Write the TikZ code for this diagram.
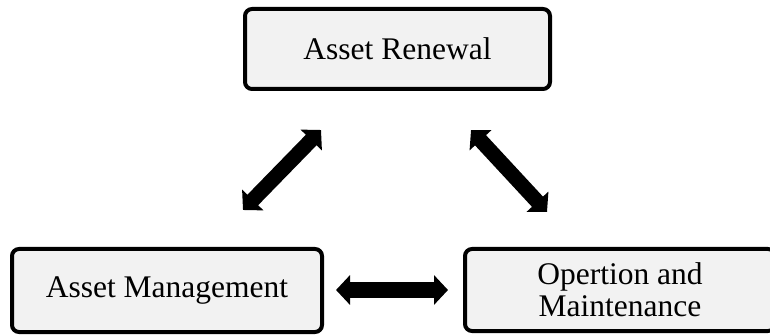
\documentclass[tikz,border=0pt]{standalone}
\usepackage{fontspec}
\setmainfont{Liberation Serif}
\usetikzlibrary{arrows.meta}
\begin{document}
\begin{tikzpicture}[x=1pt,y=-1pt,
  box/.style={draw=black, line width=4pt, rounded corners=7pt, fill=boxfill,
    inner sep=0pt, font=\fontsize{31.5}{32}\selectfont, align=center},
  fat/.style={line width=15pt,
    {Triangle[length=14pt 0 0,width=29pt 0 0]}-{Triangle[length=14pt 0 0,width=29pt 0 0]}}]
  \definecolor{boxfill}{HTML}{F2F2F2}
  \useasboundingbox (0,0) rectangle (770,336);
  \clip (0,0) rectangle (770,336);

  % the three stages
  \node[box, minimum width=305pt, minimum height=80pt] (ren) at (397.5,49) {Asset Renewal};
  \node[box, minimum width=310pt, minimum height=83pt] (mgmt) at (167,290.5) {Asset Management};
  \node[box, minimum width=310pt, minimum height=82pt] (om) at (620,290) {Opertion and\\Maintenance};

  % arrow end points between the boxes
  \coordinate (l1) at (243,210);
  \coordinate (l2) at (321,130);
  \coordinate (r1) at (471,130);
  \coordinate (r2) at (547,212);
  \coordinate (h1) at (336,290);
  \coordinate (h2) at (448,290);

  % two-way links
  \draw[fat] (l1) -- (l2);
  \draw[fat] (r1) -- (r2);
  \draw[fat] (h1) -- (h2);
\end{tikzpicture}
\end{document}
